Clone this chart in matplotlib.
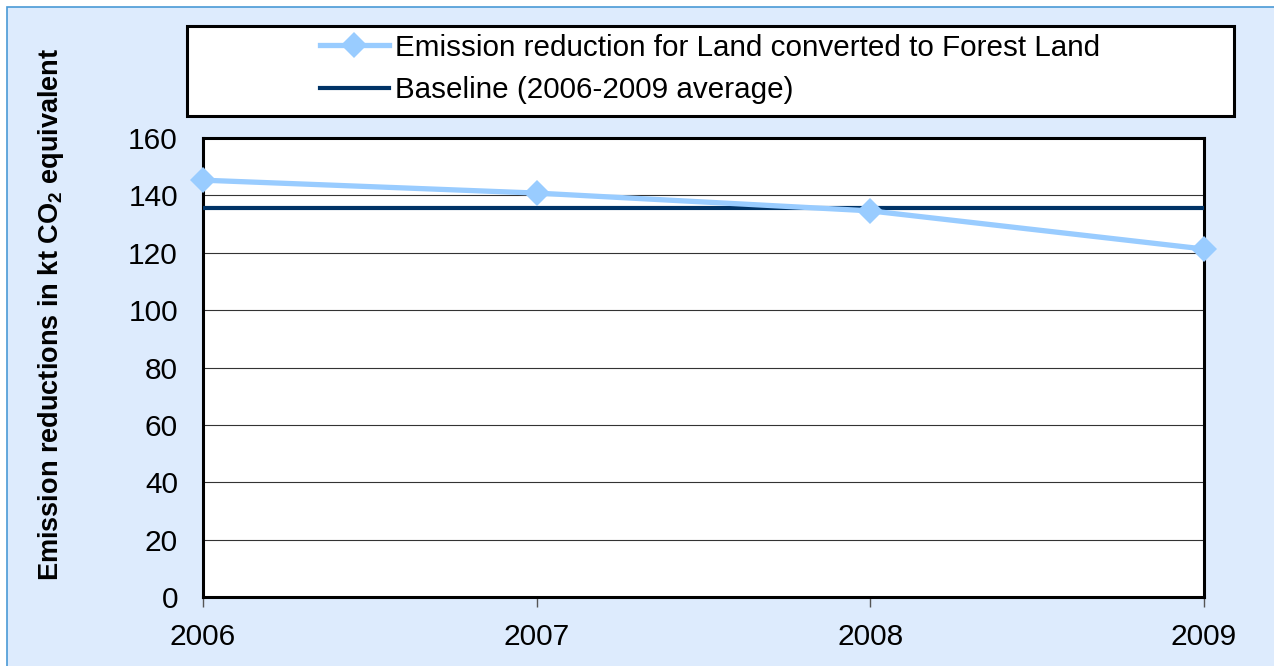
import matplotlib
matplotlib.use("Agg")
import matplotlib.pyplot as plt
from matplotlib.patches import Rectangle
from matplotlib.lines import Line2D

plt.rcParams['font.family'] = ['Liberation Sans', 'DejaVu Sans']
plt.rcParams['mathtext.fontset'] = 'custom'
plt.rcParams['mathtext.rm'] = 'Liberation Sans'
plt.rcParams['mathtext.bf'] = 'Liberation Sans:bold'

years = ['2006', '2007', '2008', '2009']
emission_reduction = [145.3, 140.8, 134.6, 121.3]
baseline = [135.5, 135.5, 135.5, 135.5]
y_ticks = [0, 20, 40, 60, 80, 100, 120, 140, 160]

W, H = 1274, 666
fig = plt.figure(figsize=(W / 100, H / 100), dpi=100, facecolor='white')

# outer chart area
fig.patches.append(Rectangle((7 / W, -0.1), 1.2, (H - 7) / H + 0.1,
                             transform=fig.transFigure, facecolor='#DDEBFD',
                             edgecolor='#4A9AD6', linewidth=1.2, zorder=0))

ax = fig.add_axes([203 / W, (H - 597) / H, (1204 - 203) / W, (597 - 138) / H])
ax.set_zorder(3)
ax.set_facecolor('white')
x = list(range(len(years)))

ax.plot(x, baseline, color='#003366', linewidth=3.0, solid_capstyle='round',
        zorder=3, label='Baseline (2006-2009 average)')
ax.plot(x, emission_reduction, color='#99CCFF', linewidth=3.8, marker='D',
        markersize=13, markeredgewidth=0, zorder=4, clip_on=False,
        label='Emission reduction for Land converted to Forest Land')

ax.set_xlim(0, 3)
ax.set_ylim(0, 160)
ax.set_yticks(y_ticks)
ax.set_xticks(x)
ax.set_xticklabels(years)
ax.yaxis.grid(True, color='#333333', linewidth=0.8)
ax.set_axisbelow(True)
for s in ax.spines.values():
    s.set_linewidth(2.2)
    s.set_color('black')
ax.tick_params(axis='y', length=0, pad=18, labelsize=21.5)
ax.tick_params(axis='x', length=7, width=1, color='#555555', direction='out',
               pad=12, labelsize=21.5)

fig.text(51 / W, 1 - 314 / H,
         r'Emission reductions in kt CO$_\mathbf{2}$ equivalent',
         rotation=90, ha='center', va='center', fontsize=19.5, fontweight='bold')

# legend box
fig.patches.append(Rectangle((187 / W, 1 - 116 / H), (1234 - 187) / W, (116 - 26) / H,
                             transform=fig.transFigure, facecolor='white',
                             edgecolor='black', linewidth=2.2, zorder=1))
handles = [Line2D([], [], color='#99CCFF', linewidth=3.8, marker='D', markersize=13,
                  markeredgewidth=0),
           Line2D([], [], color='#003366', linewidth=3.0)]
labels = ['Emission reduction for Land converted to Forest Land',
          'Baseline (2006-2009 average)']
leg = fig.legend(handles, labels, loc='center', bbox_to_anchor=(710 / W, 1 - 69 / H),
                 frameon=False, fontsize=21.3, handlelength=2.35, handletextpad=0.2,
                 labelspacing=0.5, alignment='left')
leg.set_zorder(5)

fig.savefig('out.png', dpi=100, facecolor=fig.get_facecolor())
